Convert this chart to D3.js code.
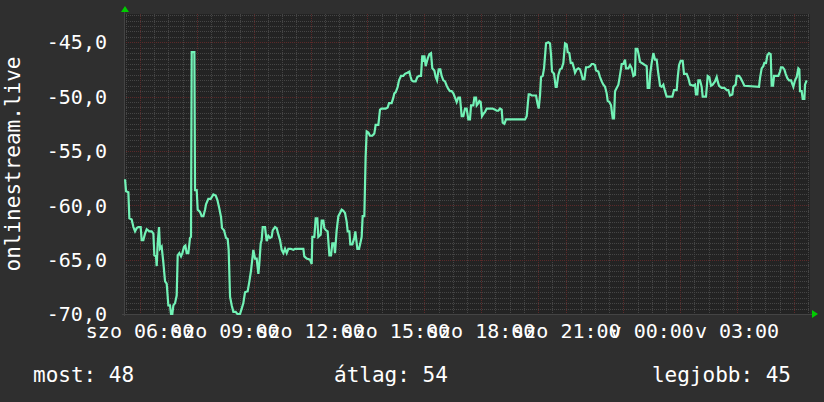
<!DOCTYPE html>
<html>
<head>
<meta charset="utf-8">
<script src="https://cdn.jsdelivr.net/npm/d3@7"></script>
<style>
  body { margin: 0; background: #2f2f2f; }
  svg { display: block; font-family: "DejaVu Sans Mono", monospace; }
</style>
</head>
<body>
<div id="chart"></div>
<script>
// minutes since saturday 00:00
const minutes = [
  328.4, 330.5, 335.4, 337.5, 342.4, 346.0, 349.5, 353.0, 356.5, 361.4, 363.5, 367.0, 370.6, 374.1, 379.7, 384.6,
  388.2, 390.3, 393.8, 395.2, 397.3, 400.1, 402.2, 405.7, 409.3, 412.8, 416.3, 419.8, 423.3, 425.4, 428.2, 430.4,
  433.9, 437.4, 439.5, 443.0, 446.5, 449.4, 452.9, 455.7, 458.5, 462.0, 465.5, 467.6, 469.1, 474.7, 476.1, 479.6,
  481.7, 486.6, 490.2, 493.7, 497.2, 499.3, 504.2, 509.2, 514.8, 519.7, 523.2, 527.4, 531.0, 533.1, 537.3, 541.5,
  545.0, 547.1, 550.0, 553.5, 557.0, 561.9, 565.4, 571.1, 574.6, 578.1, 581.6, 587.2, 590.8, 594.3, 597.1, 599.2,
  602.7, 606.2, 609.8, 611.9, 614.7, 616.8, 618.9, 623.8, 627.3, 630.9, 634.4, 637.9, 640.0, 644.9, 648.5, 652.0,
  655.5, 659.0, 662.5, 666.0, 669.6, 673.1, 678.0, 683.6,
  687.1, 704.7, 706.8, 711.7, 718.8, 722.3, 723.7, 727.9, 730.7, 734.2, 736.3, 741.3, 743.4, 746.9, 749.0, 752.5,
  756.0, 759.6, 763.1, 765.9, 769.4, 771.5, 775.0, 778.6, 782.1, 785.6, 789.1, 792.6, 796.1, 798.3, 801.8, 803.9,
  808.1, 812.3, 814.4, 816.5, 818.7, 822.2, 825.0, 827.8, 829.9, 833.4, 836.2, 838.4, 841.9, 845.4, 850.3, 854.5,
  857.3, 863.0, 866.5, 870.0, 878.5, 882.7, 885.5, 891.1, 894.6, 896.7, 899.6, 903.8, 906.6, 910.8, 915.7, 919.2,
  924.2, 928.4, 931.2, 933.3, 936.8, 941.8, 945.3, 948.8, 953.0, 955.8, 958.0, 960.1, 962.9, 967.1, 970.6, 974.1,
  976.9, 981.2, 984.0, 986.8, 990.3, 993.8, 996.6, 1000.2, 1003.7, 1007.2, 1010.7, 1014.2, 1017.7, 1021.3, 1024.8, 1028.3,
  1031.8, 1035.3, 1038.9, 1042.4, 1045.9, 1049.4, 1052.9, 1056.4,
  1058.6, 1063.5, 1065.6, 1069.2, 1070.6, 1074.1, 1076.2, 1079.0, 1081.8, 1084.6, 1088.2, 1091.7, 1104.3, 1109.3, 1112.8, 1116.3,
  1119.8, 1123.3, 1125.4, 1129.0, 1132.5, 1172.6, 1176.1, 1180.3, 1183.1, 1186.6, 1195.8, 1198.6, 1201.4, 1204.2, 1206.3, 1209.9,
  1212.7, 1216.9, 1221.8, 1225.3, 1227.5, 1229.6, 1233.8, 1237.3, 1239.4, 1242.9, 1246.4, 1250.0, 1253.5, 1257.0, 1260.5, 1262.6,
  1266.1, 1269.0, 1272.5, 1276.0, 1278.1, 1281.6, 1285.1, 1288.7, 1291.5, 1294.3, 1297.8, 1301.3, 1306.2, 1309.8, 1313.3, 1316.8,
  1320.3, 1322.4, 1327.3, 1330.9, 1334.4, 1337.9, 1341.4, 1344.9, 1347.0, 1350.6, 1354.1, 1357.6, 1360.4, 1362.5, 1366.0, 1369.6,
  1373.1, 1376.6, 1380.1, 1383.6, 1385.7, 1390.7, 1394.2, 1397.7, 1401.2, 1404.7, 1406.1, 1409.7, 1411.8, 1415.3, 1422.3,
  1425.8, 1429.3, 1431.4, 1434.9, 1437.1, 1439.9, 1443.4, 1446.9, 1450.4, 1453.9, 1456.0, 1457.5, 1461.0, 1464.5, 1468.0, 1471.5,
  1483.5, 1487.0, 1492.6, 1494.7, 1497.6, 1501.1, 1505.3, 1508.1, 1513.7, 1517.3, 1520.8, 1527.8, 1531.3, 1533.4, 1536.2, 1538.4,
  1541.9, 1545.4, 1547.5, 1554.5, 1558.1, 1561.6, 1565.1, 1568.6, 1573.5, 1577.1, 1579.2, 1582.0, 1587.6, 1593.2, 1598.2, 1601.7,
  1605.2, 1610.1, 1612.2, 1617.2, 1619.3, 1624.2, 1627.7, 1631.2, 1635.4, 1666.4, 1668.5, 1672.0, 1675.5, 1677.7, 1681.2, 1684.0,
  1687.5, 1691.0, 1693.1, 1696.0, 1698.1, 1707.2, 1710.7, 1712.8, 1716.3, 1719.9, 1722.7, 1726.2, 1729.7, 1733.9, 1738.9, 1742.4,
  1745.9, 1749.4, 1751.5, 1752.9, 1756.4, 1758.6, 1762.1, 1763.5, 1767.0
];

const values = [
  -57.6, -58.7, -58.8, -61.2, -61.3, -62.0, -62.4, -62.1, -62.0, -62.0, -63.2, -63.2, -62.6, -62.2, -62.4, -62.4,
  -62.6, -64.6, -64.7, -65.6, -63.5, -62.0, -64.0, -63.8, -65.3, -67.0, -67.2, -69.2, -69.2, -70.0, -70.0, -69.2,
  -69.0, -68.3, -64.6, -64.4, -64.7, -64.4, -63.8, -63.7, -64.4, -64.4, -63.0, -62.9, -45.9, -45.9, -58.6, -58.6,
  -60.4, -60.6, -61.0, -61.0, -60.4, -59.9, -59.4, -59.4, -59.0, -59.1, -59.5, -60.3, -61.1, -62.1, -62.3, -63.0,
  -63.1, -64.1, -68.4, -69.2, -69.8, -69.8, -70.0, -70.0, -69.5, -69.0, -68.0, -67.9, -67.0, -66.0, -64.9, -64.1,
  -64.9, -64.9, -66.3, -65.3, -63.5, -63.2, -62.0, -62.0, -63.3, -62.8, -63.0, -62.9, -62.3, -62.0, -62.1, -62.7,
  -63.2, -64.1, -64.4, -64.0, -64.4, -64.0, -64.0, -64.1,
  -64.0, -64.0, -64.7, -64.9, -65.0, -65.4, -62.9, -62.9, -61.2, -61.2, -62.9, -62.7, -61.4, -61.4, -62.1, -62.3,
  -62.4, -64.6, -64.6, -63.5, -63.5, -64.4, -62.3, -61.0, -60.7, -60.4, -60.5, -60.7, -61.5, -62.4, -62.4, -63.6,
  -63.6, -63.0, -62.4, -63.2, -64.0, -64.0, -63.5, -62.9, -61.0, -61.0, -55.5, -53.2, -53.3, -53.6, -53.6, -53.4,
  -52.6, -52.6, -51.2, -51.1, -51.1, -51.0, -50.6, -50.6, -50.1, -49.7, -49.6, -49.1, -48.5, -48.1, -48.1, -47.9,
  -47.8, -47.7, -48.2, -48.5, -48.6, -48.6, -48.2, -48.1, -48.1, -46.2, -46.8, -46.2, -47.2, -46.5, -46.1, -46.0,
  -47.4, -47.6, -48.2, -48.5, -47.5, -47.5, -48.1, -48.5, -48.6, -49.0, -49.3, -49.5, -49.5, -49.7, -50.1, -50.5,
  -50.1, -50.1, -51.8, -51.8, -51.1, -51.1, -52.1, -52.1,
  -50.8, -50.8, -50.1, -50.1, -50.8, -50.6, -50.4, -50.5, -51.8, -51.6, -51.4, -51.1, -51.1, -51.2, -51.3, -51.3,
  -51.1, -51.2, -52.4, -52.5, -52.1, -52.1, -51.8, -49.8, -49.8, -49.9, -49.9, -50.6, -51.1, -49.9, -48.2, -48.1,
  -47.4, -45.1, -45.0, -45.1, -46.2, -47.7, -47.9, -49.1, -49.1, -48.0, -47.5, -47.4, -46.9, -45.1, -45.2, -45.9,
  -46.0, -46.9, -46.9, -47.4, -47.8, -47.5, -47.4, -47.5, -47.9, -48.4, -48.4, -47.3, -47.3, -47.2, -47.0, -47.0,
  -47.1, -47.6, -47.7, -48.2, -48.6, -48.9, -49.1, -49.7, -50.4, -50.5, -50.8, -52.0, -52.0, -49.5, -49.2, -48.9,
  -48.0, -47.0, -47.0, -46.6, -47.4, -47.4, -47.1, -47.4, -48.1, -48.0, -45.6, -45.6, -46.0, -46.8, -47.0,
  -47.1, -47.2, -49.2, -49.2, -47.8, -46.9, -46.0, -46.6, -46.6, -47.9, -48.5, -49.0, -49.1, -48.9, -49.5, -50.0,
  -50.0, -49.4, -49.4, -48.3, -47.1, -46.7, -46.7, -47.9, -47.9, -48.3, -48.9, -49.0, -48.9, -49.8, -49.8, -48.5,
  -48.5, -49.1, -50.0, -50.0, -48.1, -48.2, -49.0, -48.9, -48.6, -48.2, -48.6, -49.0, -49.2, -49.2, -49.4, -49.4,
  -49.9, -49.8, -49.1, -48.9, -48.1, -48.1, -48.3, -48.6, -49.0, -49.1, -48.3, -47.4, -47.2, -46.9, -46.9, -46.2,
  -46.0, -46.1, -49.0, -49.0, -48.1, -48.1, -47.7, -47.3, -47.3, -47.5, -47.9, -48.3, -48.5, -48.5, -49.1, -48.5,
  -48.2, -47.4, -47.5, -49.5, -49.5, -50.2, -50.2, -48.9, -48.5
];

const yTicks = [-70, -65, -60, -55, -50, -45];
const labelTimes = [360, 540, 720, 900, 1080, 1260, 1440, 1620];
const dayNames = ["szo", "v"];
const majorGridTimes = [360, 480, 600, 720, 840, 960, 1080, 1200, 1260, 1380, 1500, 1620, 1740];
const legendLabels = ["most", "átlag", "legjobb"];
const legendValues = [48, 54, 45];
const axisTitle = "onlinestream.live";

const W = 824, H = 402;
const plot = { left: 124, right: 810, top: 14, bottom: 314 };
const colors = {
  bg: "#2f2f2f",
  plotBg: "#232323",
  minor: "#454545",
  major: "#5c2929",
  line: "#72f2b6",
  text: "#ffffff",
  arrow: "#00cc00",
};

const svg = d3.select("#chart").append("svg")
  .attr("width", W).attr("height", H);

svg.append("rect").attr("width", W).attr("height", H).attr("fill", colors.bg);

const x = d3.scaleLinear().domain([326.2, 1774]).range([plot.left, plot.right]);
const y = d3.scaleLinear().domain([-70, -42.4]).range([plot.bottom, plot.top]);

svg.append("rect")
  .attr("x", plot.left).attr("y", plot.top)
  .attr("width", plot.right - plot.left).attr("height", plot.bottom - plot.top)
  .attr("fill", colors.plotBg);

// minor grid
const minorY = d3.range(-70, -42.4, 0.5);
const minorX = d3.range(330, 1774, 30);
const grid = svg.append("g").attr("shape-rendering", "crispEdges");
grid.selectAll(".hy").data(minorY).enter().append("line")
  .attr("x1", plot.left).attr("x2", plot.right)
  .attr("y1", d => Math.round(y(d)) + 0.5).attr("y2", d => Math.round(y(d)) + 0.5)
  .attr("stroke", colors.minor).attr("stroke-dasharray", "1,1");
grid.selectAll(".vx").data(minorX).enter().append("line")
  .attr("y1", plot.top).attr("y2", plot.bottom)
  .attr("x1", d => Math.round(x(d)) + 0.5).attr("x2", d => Math.round(x(d)) + 0.5)
  .attr("stroke", colors.minor).attr("stroke-dasharray", "1,1");

// major grid
grid.selectAll(".my").data(yTicks).enter().append("line")
  .attr("x1", plot.left).attr("x2", plot.right)
  .attr("y1", d => Math.round(y(d)) + 0.5).attr("y2", d => Math.round(y(d)) + 0.5)
  .attr("stroke", colors.major).attr("stroke-dasharray", "1,1");
grid.selectAll(".mx").data(majorGridTimes).enter().append("line")
  .attr("y1", plot.top).attr("y2", plot.bottom + 2)
  .attr("x1", d => Math.round(x(d)) + 0.5).attr("x2", d => Math.round(x(d)) + 0.5)
  .attr("stroke", colors.major).attr("stroke-dasharray", "1,1");

// axes lines
grid.append("line")
  .attr("x1", plot.left + 0.5).attr("x2", plot.left + 0.5)
  .attr("y1", plot.top - 2).attr("y2", plot.bottom + 2)
  .attr("stroke", "#444");
grid.append("line")
  .attr("x1", plot.left - 2).attr("x2", plot.right + 2)
  .attr("y1", plot.bottom + 0.5).attr("y2", plot.bottom + 0.5)
  .attr("stroke", "#444");

// arrows
svg.append("path")
  .attr("d", `M${plot.left - 3},${plot.top - 2} L${plot.left + 1},${plot.top - 8} L${plot.left + 5},${plot.top - 2} Z`)
  .attr("fill", colors.arrow);
svg.append("path")
  .attr("d", `M${plot.right + 2},${plot.bottom - 4} L${plot.right + 8},${plot.bottom} L${plot.right + 2},${plot.bottom + 4} Z`)
  .attr("fill", colors.arrow);

// data line
const data = minutes.map((m, i) => ({ m, v: values[i] }));
const line = d3.line().x(d => x(d.m)).y(d => y(d.v));
svg.append("path")
  .datum(data)
  .attr("fill", "none")
  .attr("stroke", colors.line)
  .attr("stroke-width", 2.2)
  .attr("stroke-linejoin", "miter")
  .attr("d", line);

// y labels
const fmt = d => d3.format(".1f")(d).replace(".", ",").replace("−", "-");
svg.selectAll(".yl").data(yTicks).enter().append("text")
  .attr("x", 107).attr("y", d => y(d))
  .attr("dy", "0.36em")
  .attr("text-anchor", "end")
  .attr("fill", colors.text)
  .style("font-size", "20px")
  .text(fmt);

// x labels
const pad = n => String(n).padStart(2, "0");
svg.selectAll(".xl").data(labelTimes).enter().append("text")
  .attr("x", d => x(d)).attr("y", 338)
  .attr("text-anchor", "middle")
  .attr("fill", colors.text)
  .style("font-size", "20px")
  .text(d => `${dayNames[Math.floor(d / 1440)]} ${pad(Math.floor(d % 1440 / 60))}:${pad(d % 60)}`);

// y title
svg.append("text")
  .attr("transform", `translate(20,${(plot.top + plot.bottom) / 2}) rotate(-90)`)
  .attr("text-anchor", "middle")
  .attr("fill", colors.text)
  .style("font-size", "21px")
  .text(axisTitle);

// legend
const legendX = [33, 334, 791];
const legendAnchor = ["start", "start", "end"];
svg.selectAll(".lg").data(legendLabels).enter().append("text")
  .attr("x", (d, i) => legendX[i]).attr("y", 382)
  .attr("text-anchor", (d, i) => legendAnchor[i])
  .attr("fill", colors.text)
  .style("font-size", "21px")
  .text((d, i) => `${d}: ${legendValues[i]}`);
</script>
</body>
</html>
